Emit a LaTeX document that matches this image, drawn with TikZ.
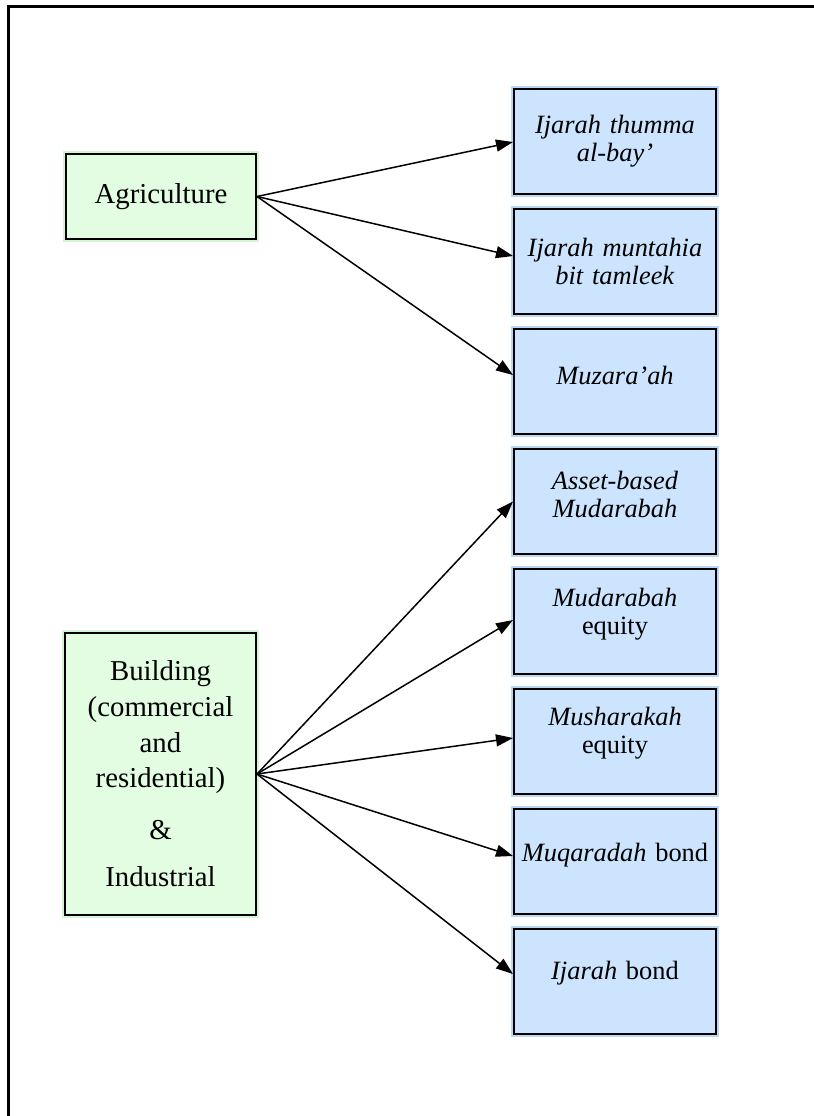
\documentclass[tikz,border=0pt]{standalone}
\usepackage{fontspec}
\setmainfont{Liberation Serif}
\usetikzlibrary{arrows.meta,positioning}
\definecolor{boxblue}{RGB}{204,228,253}
\definecolor{ringblue}{RGB}{188,214,245}
\definecolor{boxgreen}{RGB}{226,253,226}
\definecolor{ringgreen}{RGB}{212,245,212}

\begin{document}
\begin{tikzpicture}[x=0.5pt,y=-0.5pt,
  sector/.style={draw=black,line width=1pt,fill=boxgreen,preaction={draw=ringgreen,line width=3pt},
    inner sep=0pt,align=center,text width=90pt,font=\fontsize{14.4pt}{17.8pt}\selectfont},
  instr/.style={draw=black,line width=1pt,fill=boxblue,preaction={draw=ringblue,line width=3pt},
    minimum width=101pt,minimum height=52.5pt,inner sep=0pt,align=center,text width=99pt,
    font=\fontsize{13.2pt}{14pt}\selectfont},
  link/.style={line width=0.75pt,-{Triangle[length=8.5pt,width=6pt]}}]
\useasboundingbox (0,0) rectangle (814,1116);
\draw[line width=1.2pt] (8.5,6.5) rectangle (830,1130);
\node[sector,minimum width=95pt,minimum height=42.5pt] (agri) at (161,196.5) {Agriculture};
\node[sector,minimum width=95.5pt,minimum height=141pt] (bldg) at (160.5,774)
 {Building\\(commercial\\and\\residential)\\[8pt]\&\\[6pt]Industrial};
% instruments, one box each, with the lift of the text and the aim of the arrow
\foreach \k/\lbl/\lift/\aim in {
  1/{\textit{Ijarah thumma}\\\textit{al-bay’}}/0/-0.25,
  2/{\textit{Ijarah muntahia}\\\textit{bit tamleek}}/0/2.75,
  3/{\textit{Muzara’ah}}/6.5/3.25,
  4/{\textit{Asset-based}\\\textit{Mudarabah}}/7.5/0,
  5/{\textit{Mudarabah}\\equity}/7.5/0.75,
  6/{\textit{Musharakah}\\equity}/8.5/1.75,
  7/{\textit{Muqaradah} bond}/6.5/2.75,
  8/{\textit{Ijarah} bond}/8/3.75}{
  \node[instr] (r\k) at (615,{141.5+120*(\k-1)}) {\lbl\par\kern\lift pt};
  \ifnum\k<4
   \draw[link] (agri.east) -- ([yshift=\aim pt]r\k.west);
  \else
   \draw[link] (bldg.east) -- ([yshift=\aim pt]r\k.west);
  \fi}
\end{tikzpicture}
\end{document}
